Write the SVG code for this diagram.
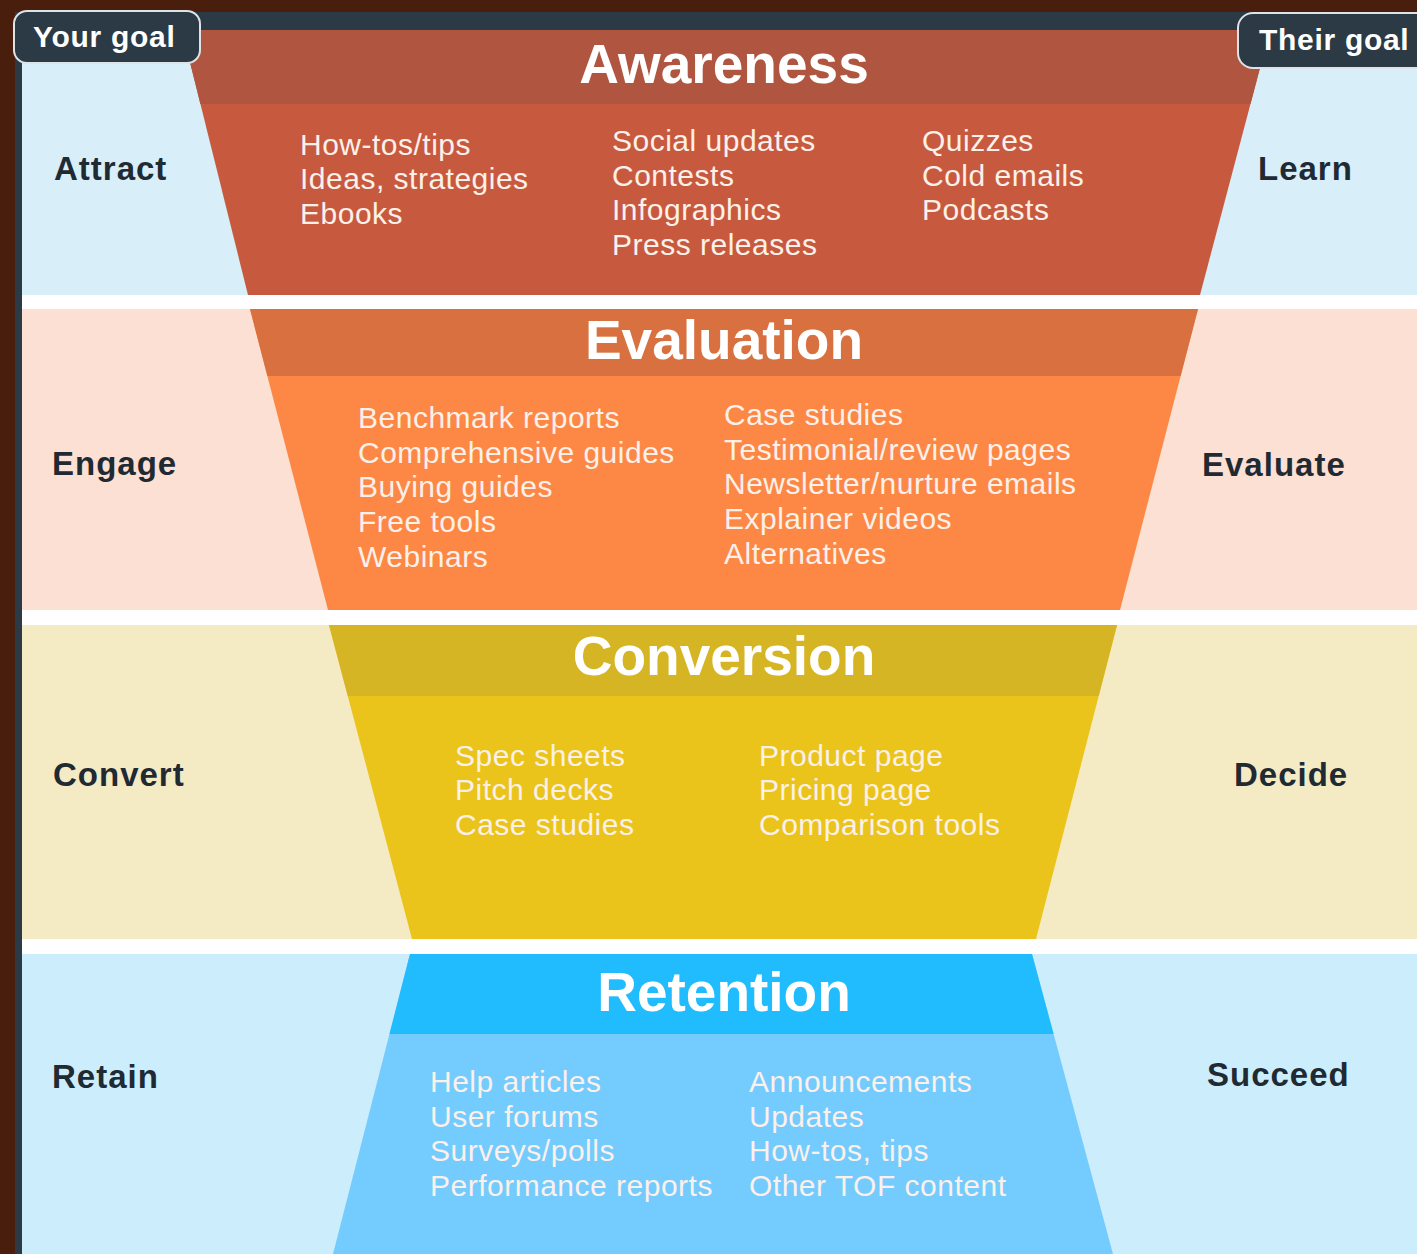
<svg xmlns="http://www.w3.org/2000/svg" width="1417" height="1254" viewBox="0 0 1417 1254">
<style>
.title{font-family:"Liberation Sans",Arial,sans-serif;font-weight:bold;font-size:55px;fill:#ffffff;text-anchor:middle}
.body{font-family:"Liberation Sans",Arial,sans-serif;font-size:30px;fill:#fbf0ea;letter-spacing:0.5px}
.side{font-family:"Liberation Sans",Arial,sans-serif;font-weight:bold;font-size:33px;fill:#1f2a33;letter-spacing:1px}
.tab{font-family:"Liberation Sans",Arial,sans-serif;font-weight:bold;font-size:30px;fill:#ffffff;letter-spacing:0.7px}
.tabbox{fill:#2c3a45;stroke:#dde3e6;stroke-width:2}
</style>
<rect x="0" y="0" width="1417" height="1254" fill="#4a1e0c"/>
<rect x="15" y="12" width="1402" height="1242" fill="#2c3a45"/>
<rect x="22" y="30" width="1395" height="1224" fill="#ffffff"/>
<g id="backgrounds">
<rect x="22" y="30" width="1395" height="265" fill="#d8eef9"/>
<rect x="22" y="309" width="1395" height="301" fill="#fbe0d3"/>
<rect x="22" y="625" width="1395" height="314" fill="#f4eac3"/>
<rect x="22" y="954" width="1395" height="300" fill="#ccedfc"/>
</g>
<g id="awareness">
<polygon points="182,30 1270,30 1200,295 248,295" fill="#c75a3e"/>
<polygon points="182,30 1270,30 1250.5,104 200.4,104" fill="#b0553f"/>
<text class="title" x="724" y="83">Awareness</text>
<text class="body" x="300" y="155">How-tos/tips</text>
<text class="body" x="300" y="189">Ideas, strategies</text>
<text class="body" x="300" y="224">Ebooks</text>
<text class="body" x="612" y="151">Social updates</text>
<text class="body" x="612" y="186">Contests</text>
<text class="body" x="612" y="220">Infographics</text>
<text class="body" x="612" y="255">Press releases</text>
<text class="body" x="922" y="151">Quizzes</text>
<text class="body" x="922" y="186">Cold emails</text>
<text class="body" x="922" y="220">Podcasts</text>
</g>
<g id="evaluation">
<polygon points="250,309 1198,309 1120,610 328,610" fill="#fd8845"/>
<polygon points="250,309 1198,309 1180.6,376 267.4,376" fill="#d8703f"/>
<text class="title" x="724" y="359">Evaluation</text>
<text class="body" x="358" y="428">Benchmark reports</text>
<text class="body" x="358" y="463">Comprehensive guides</text>
<text class="body" x="358" y="497">Buying guides</text>
<text class="body" x="358" y="532">Free tools</text>
<text class="body" x="358" y="567">Webinars</text>
<text class="body" x="724" y="425">Case studies</text>
<text class="body" x="724" y="460">Testimonial/review pages</text>
<text class="body" x="724" y="494">Newsletter/nurture emails</text>
<text class="body" x="724" y="529">Explainer videos</text>
<text class="body" x="724" y="564">Alternatives</text>
</g>
<g id="conversion">
<polygon points="329,625 1117,625 1036,939 412,939" fill="#eac41b"/>
<polygon points="329,625 1117,625 1098.7,696 347.8,696" fill="#d6b525"/>
<text class="title" x="724" y="675">Conversion</text>
<text class="body" x="455" y="766">Spec sheets</text>
<text class="body" x="455" y="800">Pitch decks</text>
<text class="body" x="455" y="835">Case studies</text>
<text class="body" x="759" y="766">Product page</text>
<text class="body" x="759" y="800">Pricing page</text>
<text class="body" x="759" y="835">Comparison tools</text>
</g>
<g id="retention">
<polygon points="410,954 1032,954 1113,1254 333,1254" fill="#74cbfe"/>
<polygon points="410,954 1032,954 1053.6,1034 389.5,1034" fill="#21bcfd"/>
<text class="title" x="724" y="1011">Retention</text>
<text class="body" x="430" y="1092">Help articles</text>
<text class="body" x="430" y="1127">User forums</text>
<text class="body" x="430" y="1161">Surveys/polls</text>
<text class="body" x="430" y="1196">Performance reports</text>
<text class="body" x="749" y="1092">Announcements</text>
<text class="body" x="749" y="1127">Updates</text>
<text class="body" x="749" y="1161">How-tos, tips</text>
<text class="body" x="749" y="1196">Other TOF content</text>
</g>
<g id="your-goals">
<text class="side" x="54" y="180">Attract</text>
<text class="side" x="52" y="475">Engage</text>
<text class="side" x="53" y="786">Convert</text>
<text class="side" x="52" y="1088">Retain</text>
</g>
<g id="their-goals">
<text class="side" x="1258" y="180">Learn</text>
<text class="side" x="1202" y="476">Evaluate</text>
<text class="side" x="1234" y="786">Decide</text>
<text class="side" x="1207" y="1086">Succeed</text>
</g>
<g id="your-goal-tab">
<rect class="tabbox" x="14" y="11" width="186" height="52" rx="13"/>
<text class="tab" x="33" y="47">Your goal</text>
</g>
<g id="their-goal-tab">
<rect class="tabbox" x="1238" y="13" width="200" height="55" rx="15"/>
<text class="tab" x="1259" y="50">Their goal</text>
</g>
</svg>
